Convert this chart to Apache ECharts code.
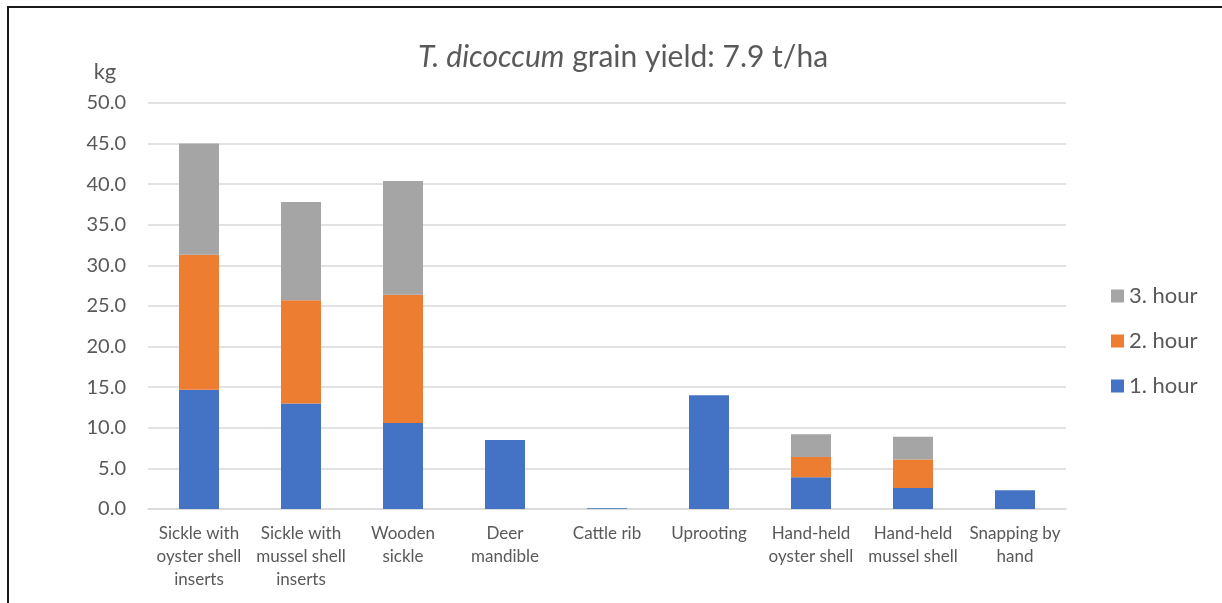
<!DOCTYPE html>
<html>
<head>
<meta charset="utf-8">
<script src="https://cdn.jsdelivr.net/npm/echarts@6/dist/echarts.min.js"></script>
<style>
  html, body { margin: 0; padding: 0; background: #fff; }
  #chart { width: 1222px; height: 603px; }
</style>
</head>
<body>
<div id="chart"></div>
<script>
// Harvesting methods (x categories)
const categories = [
  'Sickle with\noyster shell\ninserts',
  'Sickle with\nmussel shell\ninserts',
  'Wooden\nsickle',
  'Deer\nmandible',
  'Cattle rib',
  'Uprooting',
  'Hand-held\noyster shell',
  'Hand-held\nmussel shell',
  'Snapping by\nhand'
];

// Harvested amount per hour (kg)
const hour1 = [14.7, 13.0, 10.6, 8.5, 0.1, 14.0, 3.9, 2.6, 2.3];
const hour2 = [16.6, 12.7, 15.8, 0, 0, 0, 2.5, 3.5, 0];
const hour3 = [13.7, 12.1, 14.0, 0, 0, 0, 2.8, 2.8, 0];

const seriesNames = ['1. hour', '2. hour', '3. hour'];
const colors = ['#4472C4', '#ED7D31', '#A5A5A5'];

const yMin = 0, yMax = 50, yStep = 5;

const textColor = '#595959';
const font = 'Lato, "Open Sans", sans-serif';

const chart = echarts.init(document.getElementById('chart'));

function bar(name, data, color) {
  return {
    name: name,
    type: 'bar',
    stack: 'total',
    data: data,
    barWidth: 40,
    itemStyle: { color: color },
    emphasis: { disabled: true }
  };
}

chart.setOption({
  animation: false,
  textStyle: { fontFamily: font },
  title: {
    text: '{i|T. dicoccum} grain yield: 7.9 t/ha',
    left: 618,
    top: 37,
    textAlign: 'center',
    textStyle: {
      fontFamily: font,
      fontSize: 30,
      fontWeight: 'normal',
      color: textColor,
      rich: {
        i: { fontFamily: font, fontSize: 30, fontStyle: 'italic', color: textColor }
      }
    }
  },
  legend: {
    data: ['3. hour', '2. hour', '1. hour'],
    orient: 'vertical',
    left: 1106,
    top: 280,
    itemWidth: 13,
    itemHeight: 13,
    itemGap: 23,
    icon: 'rect',
    textStyle: { fontFamily: font, fontSize: 22, color: textColor }
  },
  grid: {
    left: 148,
    right: 156,
    top: 103,
    bottom: 94
  },
  xAxis: {
    type: 'category',
    data: categories,
    axisLine: { lineStyle: { color: '#d9d9d9', width: 1.5 } },
    axisTick: { show: false },
    axisLabel: {
      interval: 0,
      margin: 13,
      fontSize: 17,
      lineHeight: 23,
      color: textColor,
      fontFamily: font
    }
  },
  yAxis: {
    type: 'value',
    name: 'kg',
    nameLocation: 'end',
    nameGap: 20,
    nameTextStyle: { fontSize: 22, color: textColor, fontFamily: font, align: 'center', padding: [0, 86, 0, 0] },
    min: yMin,
    max: yMax,
    interval: yStep,
    axisLine: { show: false },
    axisTick: { show: false },
    splitLine: { lineStyle: { color: '#d9d9d9', width: 1.5 } },
    axisLabel: {
      margin: 22,
      fontSize: 20,
      color: textColor,
      fontFamily: font,
      formatter: v => v.toFixed(1)
    }
  },
  graphic: [
    { type: 'line', shape: { x1: 7, y1: 7, x2: 1222, y2: 7 }, style: { stroke: '#1a1a1a', lineWidth: 2 } },
    { type: 'line', shape: { x1: 8, y1: 6, x2: 8, y2: 603 }, style: { stroke: '#1a1a1a', lineWidth: 2 } }
  ],
  series: [
    bar(seriesNames[0], hour1, colors[0]),
    bar(seriesNames[1], hour2, colors[1]),
    bar(seriesNames[2], hour3, colors[2])
  ]
});
</script>
</body>
</html>
